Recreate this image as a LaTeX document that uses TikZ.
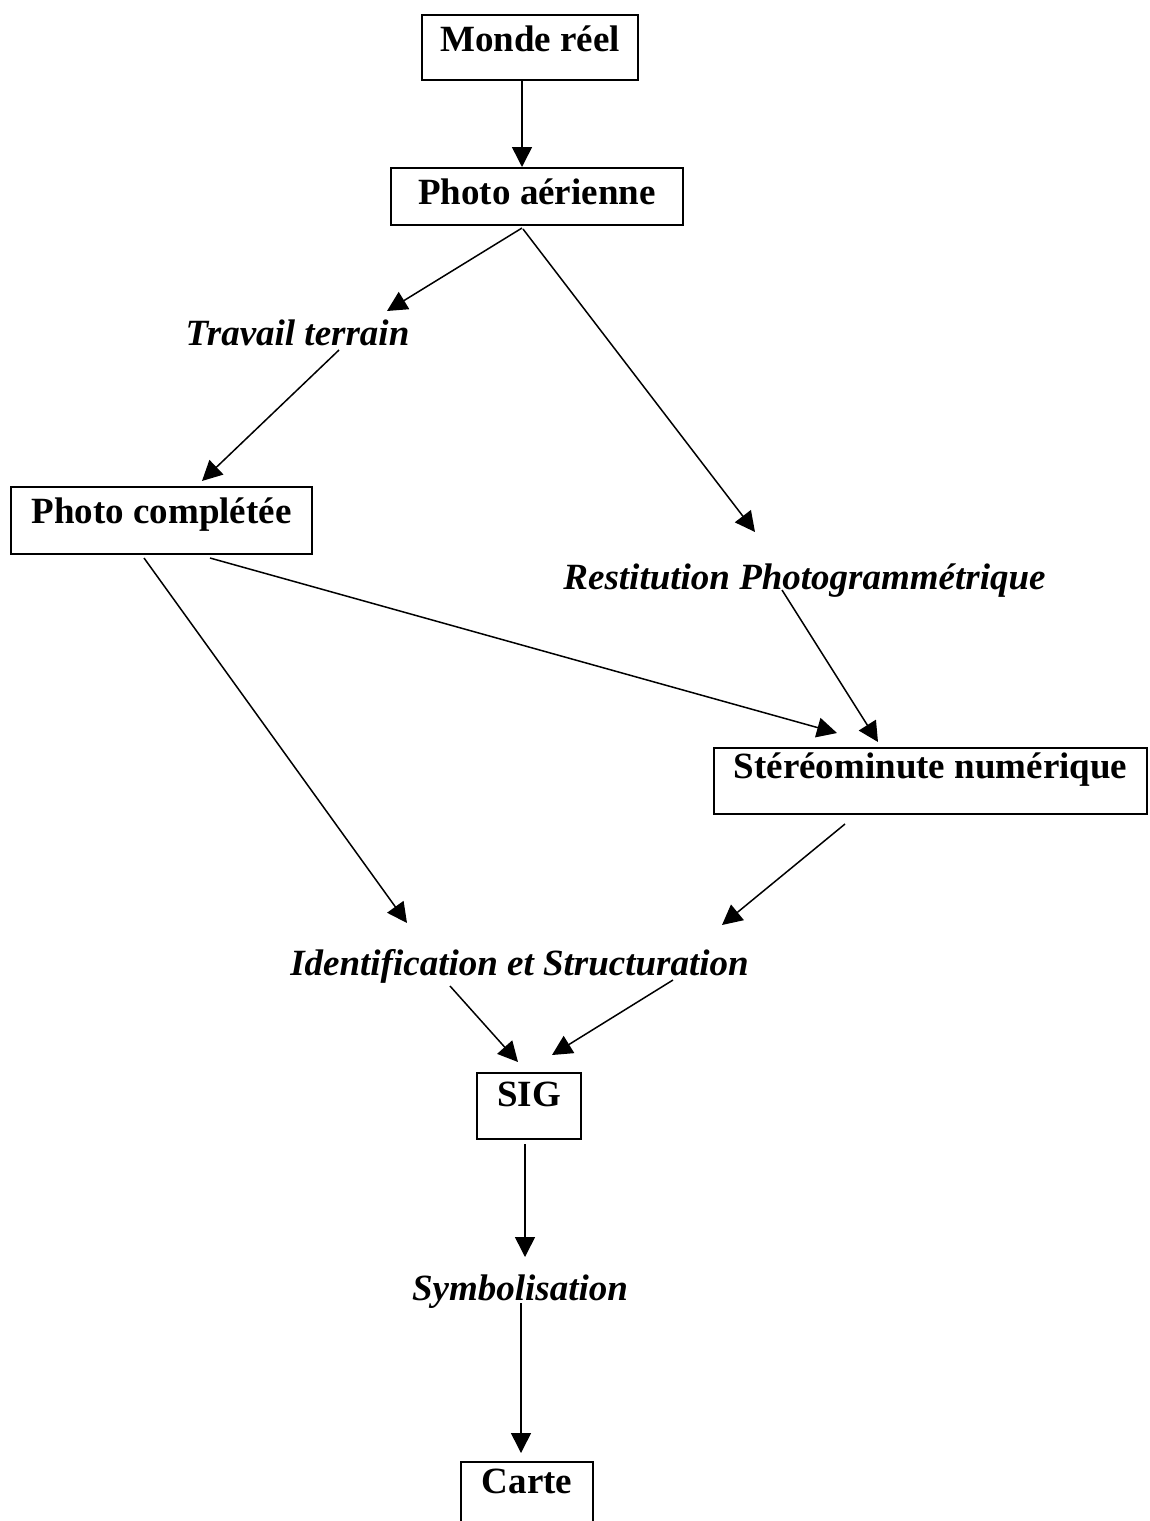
\documentclass[tikz,border=0pt]{standalone}
\usepackage{fontspec}
\setmainfont{Liberation Serif}
\usetikzlibrary{arrows.meta,calc}
\begin{document}
\begin{tikzpicture}[x=1pt,y=-1pt,
  boxnode/.style={draw,line width=2pt,inner sep=0pt,anchor=north,
    font=\fontsize{37}{44}\selectfont\bfseries},
  lbl/.style={inner sep=0pt,anchor=base,
    font=\fontsize{37}{44}\selectfont\bfseries\itshape},
  arr/.style={line width=1.5pt,-{Triangle[length=20pt,width=20pt]}}]
\useasboundingbox (0,0) rectangle (1149,1521);
\node[boxnode,minimum width=216pt,text height=36pt,text depth=29pt] (MR) at (530,14) {Monde réel};
\node[boxnode,minimum width=292pt,text height=36pt,text depth=21pt] (PA) at (537,167) {Photo aérienne};
\node[boxnode,minimum width=301pt,text height=36pt,text depth=31pt] (PC) at (161.5,486) {Photo complétée};
\node[boxnode,minimum width=433pt,text height=30pt,text depth=36pt] (SN) at (930.5,747) {Stéréominute numérique};
\node[boxnode,minimum width=104pt,text height=33pt,text depth=33pt] (SIG) at (529,1072) {SIG};
\node[boxnode,minimum width=132pt,text height=31pt,text depth=48pt] (CA) at (527,1461) {Carte};
\node[lbl] (TT) at (297.5,345) {Travail terrain};
\node[lbl] (RP) at (804.5,589) {Restitution Photogrammétrique};
\node[lbl] (IS) at (519.5,975) {Identification et Structuration};
\node[lbl] (SY) at (520,1300) {Symbolisation};
\draw[arr] ($(MR.south)+(-8,0)$) -- ($(PA.north)+(-15,0)$);
\draw[arr] ($(PA.south)+(-15,2)$) -- ($(TT.base)+(89.5,-34)$);
\draw[arr] ($(PA.south)+(-14,3)$) -- ($(RP.base)+(-49.5,-57)$);
\draw[arr] ($(TT.base)+(41.5,5)$) -- ($(PC.north)+(40.5,-5)$);
\draw[arr] ($(PC.south)+(48.5,3)$) -- ($(SN.north)+(-93.5,-14)$);
\draw[arr] ($(PC.south)+(-17.5,3)$) -- ($(IS.base)+(-112.5,-52)$);
\draw[arr] ($(RP.base)+(-22.5,1)$) -- ($(SN.north)+(-52.5,-5)$);
\draw[arr] ($(SN.south)+(-85.5,9)$) -- ($(IS.base)+(202.5,-50)$);
\draw[arr] ($(IS.base)+(-69.5,11)$) -- ($(SIG.north)+(-11,-10)$);
\draw[arr] ($(IS.base)+(153.5,5)$) -- ($(SIG.north)+(23,-17)$);
\draw[arr] ($(SIG.south)+(-4,4)$) -- ($(SY.base)+(5,-43)$);
\draw[arr] ($(SY.base)+(1,3)$) -- ($(CA.north)+(-6,-8)$);
\end{tikzpicture}
\end{document}
